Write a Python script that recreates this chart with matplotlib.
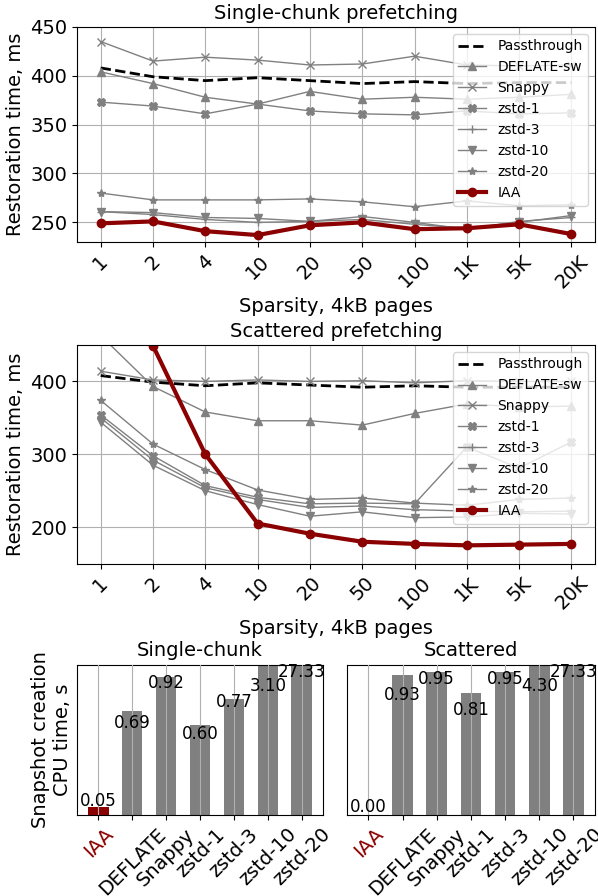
import matplotlib
matplotlib.use("Agg")
import matplotlib.pyplot as plt
import numpy as np

# x categories (sparsity, 4kB pages)
sparsity = ["1", "2", "4", "10", "20", "50", "100", "1K", "5K", "20K"]

# Single-chunk prefetching, restoration time in ms
single_passthrough = [408, 399, 395, 398, 395, 392, 394, 392, 393, 393]
single_deflate_sw = [404, 392, 378, 371, 384, 376, 378, 376, 378, 381]
single_snappy = [435, 415, 419, 416, 411, 412, 420, 411, 410, 411]
single_zstd1 = [373, 369, 361, 371, 364, 361, 360, 364, 361, 362]
single_zstd3 = [261, 258, 253, 250, 251, 256, 250, 243, 251, 255]
single_zstd10 = [261, 260, 255, 254, 251, 253, 248, 244, 250, 257]
single_zstd20 = [280, 273, 273, 273, 274, 271, 266, 272, 267, 268]
single_iaa = [249, 251, 241, 237, 247, 250, 243, 244, 248, 238]

# Scattered prefetching, restoration time in ms
scat_passthrough = [408, 399, 394, 398, 395, 392, 394, 392, 392, 392]
scat_deflate_sw = [463, 393, 358, 346, 346, 340, 356, 369, 365, 366]
scat_snappy = [414, 402, 400, 402, 400, 401, 398, 401, 400, 400]
scat_zstd1 = [354, 298, 257, 241, 232, 233, 232, 310, 281, 317]
scat_zstd3 = [350, 292, 254, 238, 227, 229, 224, 222, 221, 222]
scat_zstd10 = [344, 285, 250, 231, 215, 221, 213, 214, 219, 218]
scat_zstd20 = [374, 314, 279, 251, 238, 240, 233, 230, 238, 240]
scat_iaa = [700, 449, 300, 205, 191, 180, 177, 175, 176, 177]

# Snapshot creation CPU time, s
bar_names = ["IAA", "DEFLATE", "Snappy", "zstd-1", "zstd-3", "zstd-10", "zstd-20"]
cpu_single = [0.05, 0.69, 0.92, 0.60, 0.77, 3.10, 27.33]
cpu_scattered = [0.00, 0.93, 0.95, 0.81, 0.95, 4.30, 27.33]

# where the value labels sit (data y, the axis is cut at 1)
label_y_single = [0.095, 0.61, 0.88, 0.54, 0.75, 0.857, 0.955]
label_y_scattered = [0.055, 0.80, 0.905, 0.70, 0.905, 0.857, 0.955]

IAA_COLOR = "#8b0000"
GRAY = "gray"

fig = plt.figure(figsize=(5.98, 8.96), dpi=100)
ax1 = fig.add_axes([0.129, 0.730, 0.866, 0.240])
ax2 = fig.add_axes([0.129, 0.371, 0.866, 0.244])
ax3 = fig.add_axes([0.129, 0.0905, 0.411, 0.1675])
ax4 = fig.add_axes([0.580, 0.0905, 0.415, 0.1675])


def line_panel(ax, title, data, ylim, yticks):
    x = np.arange(len(sparsity))
    (pt, dsw, snp, z1, z3, z10, z20, iaa) = data
    ax.plot(x, pt, "--", color="black", lw=2, label="Passthrough")
    ax.plot(x, dsw, "-^", color=GRAY, lw=1, ms=6, label="DEFLATE-sw")
    ax.plot(x, snp, "-x", color=GRAY, lw=1, ms=6, label="Snappy")
    ax.plot(x, z1, "-X", color=GRAY, lw=1, ms=6, label="zstd-1")
    ax.plot(x, z3, "-+", color=GRAY, lw=1, ms=6, label="zstd-3")
    ax.plot(x, z10, "-v", color=GRAY, lw=1, ms=6, label="zstd-10")
    ax.plot(x, z20, "-*", color=GRAY, lw=1, ms=6, label="zstd-20")
    ax.plot(x, iaa, "-o", color=IAA_COLOR, lw=3, ms=6, label="IAA")
    ax.set_xticks(x)
    ax.set_xticklabels(sparsity, rotation=45, fontsize=14)
    ax.set_ylim(*ylim)
    ax.set_yticks(yticks)
    ax.tick_params(axis="y", labelsize=14)
    ax.set_title(title, fontsize=14)
    ax.set_xlabel("Sparsity, 4kB pages", fontsize=14)
    ax.set_ylabel("Restoration time, ms", fontsize=14)
    ax.grid(True, color="#b0b0b0")
    ax.legend(loc="upper right", fontsize=10)


line_panel(ax1, "Single-chunk prefetching",
           [single_passthrough, single_deflate_sw, single_snappy, single_zstd1,
            single_zstd3, single_zstd10, single_zstd20, single_iaa],
           (230, 450), [250, 300, 350, 400, 450])
line_panel(ax2, "Scattered prefetching",
           [scat_passthrough, scat_deflate_sw, scat_snappy, scat_zstd1,
            scat_zstd3, scat_zstd10, scat_zstd20, scat_iaa],
           (150, 450), [200, 300, 400])


def bar_panel(ax, title, values, label_y):
    x = np.arange(len(bar_names))
    colors = [IAA_COLOR] + [GRAY] * (len(bar_names) - 1)
    ax.bar(x, values, width=0.6, color=colors)
    for xi, v, ly in zip(x, values, label_y):
        ax.text(xi, ly, f"{v:.2f}", ha="center", va="center", fontsize=12)
    ax.set_ylim(0, 1)
    ax.set_yticks([])
    ax.set_xticks(x)
    ax.set_xticklabels(bar_names, rotation=45, fontsize=14)
    ax.get_xticklabels()[0].set_color(IAA_COLOR)
    ax.set_axisbelow(False)
    ax.grid(True, axis="x", color="#b0b0b0")
    ax.set_title(title, fontsize=14)


bar_panel(ax3, "Single-chunk", cpu_single, label_y_single)
bar_panel(ax4, "Scattered", cpu_scattered, label_y_scattered)
ax3.set_ylabel("Snapshot creation\nCPU time, s", fontsize=14)

fig.savefig("out.png", dpi=100)
